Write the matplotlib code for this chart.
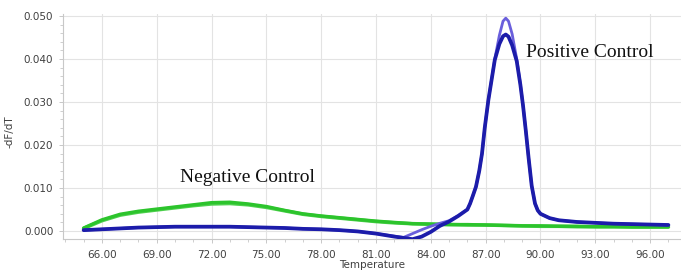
import matplotlib
matplotlib.use("Agg")
import matplotlib.pyplot as plt
from matplotlib.ticker import MultipleLocator, FormatStrFormatter

# ---- data ----
neg_temp = [65, 66, 67, 68, 69, 70, 71, 72, 73, 74, 75, 76, 77, 78, 79, 80,
            81, 82, 83, 84, 85, 86, 87, 88, 89, 90, 91, 92, 93, 94, 95, 96, 97]
neg_a = [0.0007, 0.0026, 0.0039, 0.0046, 0.0051, 0.0056, 0.0061, 0.0066, 0.0067,
         0.0063, 0.0057, 0.0048, 0.0040, 0.0035, 0.0031, 0.0027, 0.0023, 0.0020,
         0.0017, 0.0016, 0.0015, 0.0015, 0.0014, 0.0013, 0.0012, 0.0012, 0.0011,
         0.0011, 0.0010, 0.0010, 0.0010, 0.0010, 0.0010]
neg_b = [0.0006, 0.0024, 0.0037, 0.0044, 0.0049, 0.0054, 0.0059, 0.0063, 0.0064,
         0.0061, 0.0055, 0.0047, 0.0039, 0.0034, 0.0030, 0.0026, 0.0022, 0.0019,
         0.0017, 0.0016, 0.0015, 0.0014, 0.0014, 0.0013, 0.0012, 0.0011, 0.0011,
         0.0010, 0.0010, 0.0010, 0.0009, 0.0009, 0.0009]

pos_temp = [65, 66, 67, 68, 69, 70, 71, 72, 73, 74, 75, 76, 77, 78, 79, 80, 81, 82,
            82.5, 83, 83.5, 84, 84.5, 85, 85.5, 86, 86.15, 86.3, 86.47, 86.65, 86.8,
            86.95, 87.15, 87.5, 87.75, 87.95, 88.1, 88.25, 88.45, 88.7, 88.9, 89.05,
            89.2, 89.35, 89.52, 89.7, 89.85, 90.0, 90.5, 91, 92, 93, 94, 95, 96, 97]
pos_dark = [0.0002, 0.0004, 0.0006, 0.0008, 0.0009, 0.0010, 0.0010, 0.0010, 0.0010,
            0.0009, 0.0008, 0.0007, 0.0005, 0.0004, 0.0002, -0.0001, -0.0006, -0.0013,
            -0.0016, -0.0019, -0.0013, -0.0002, 0.0012, 0.0022, 0.0035, 0.0050, 0.0064,
            0.0082, 0.0103, 0.0140, 0.0180, 0.0240, 0.0305, 0.0398, 0.0435, 0.0453,
            0.0457, 0.0452, 0.0432, 0.0395, 0.0340, 0.0290, 0.0232, 0.0170, 0.0105,
            0.0064, 0.0048, 0.0040, 0.0030, 0.0025, 0.0021, 0.0019, 0.0017, 0.0016,
            0.0015, 0.0014]
pos_light = [0.0002, 0.0004, 0.0006, 0.0008, 0.0009, 0.0010, 0.0010, 0.0010, 0.0010,
             0.0009, 0.0008, 0.0007, 0.0005, 0.0004, 0.0002, -0.0001, -0.0006, -0.0012,
             -0.0015, -0.0006, 0.0003, 0.0011, 0.0018, 0.0024, 0.0036, 0.0050, 0.0064,
             0.0082, 0.0103, 0.0140, 0.0180, 0.0240, 0.0305, 0.0400, 0.0455, 0.0488,
             0.0495, 0.0488, 0.0458, 0.0400, 0.0342, 0.0290, 0.0232, 0.0170, 0.0105,
             0.0064, 0.0048, 0.0040, 0.0030, 0.0025, 0.0021, 0.0019, 0.0017, 0.0016,
             0.0015, 0.0014]

x_ticks = [66, 69, 72, 75, 78, 81, 84, 87, 90, 93, 96]
y_ticks = [0.000, 0.010, 0.020, 0.030, 0.040, 0.050]

# ---- figure ----
fig = plt.figure(figsize=(6.81, 2.71), dpi=100)
ax = fig.add_axes([63 / 681, 1 - 239 / 271, 1 - 63 / 681, 225 / 271])

ax.plot(neg_temp, neg_b, color="#4fd04f", lw=2.6, solid_capstyle="round",
        solid_joinstyle="round", zorder=3)
ax.plot(neg_temp, neg_a, color="#2cc42c", lw=2.4, solid_capstyle="round",
        solid_joinstyle="round", zorder=3)
ax.plot(pos_temp, pos_light, color="#6a5fdc", lw=2.0, solid_capstyle="round",
        solid_joinstyle="round", zorder=4)
ax.plot(pos_temp, pos_dark, color="#1c1caa", lw=2.7, solid_capstyle="round",
        solid_joinstyle="round", zorder=5)

ax.set_xlim(63.87, 97.69)
ax.set_ylim(-0.00186, 0.05047)
ax.set_xticks(x_ticks)
ax.set_yticks(y_ticks)
ax.xaxis.set_major_formatter(FormatStrFormatter("%.2f"))
ax.yaxis.set_major_formatter(FormatStrFormatter("%.3f"))
ax.xaxis.set_minor_locator(MultipleLocator(1))
ax.yaxis.set_minor_locator(MultipleLocator(0.002))

ax.grid(True, which="major", color="#e3e3e3", lw=0.8, zorder=0)
ax.set_axisbelow(True)
for s in ["top", "right"]:
    ax.spines[s].set_visible(False)
for s in ["left", "bottom"]:
    ax.spines[s].set_color("#c8c8c8")
    ax.spines[s].set_linewidth(0.8)

ax.tick_params(which="both", colors="#c8c8c8", labelcolor="#404040", labelsize=7.5)
ax.tick_params(which="major", length=3, width=0.7)
ax.tick_params(which="minor", length=2, width=0.6)
ax.tick_params(axis="x", pad=5)
ax.tick_params(axis="y", pad=4)

ax.set_xlabel("Temperature", fontsize=7.5, color="#404040")
ax.xaxis.set_label_coords(0.5, -0.095)
ax.set_ylabel("-dF/dT", fontsize=7.5, color="#404040")
ax.yaxis.set_label_coords(-0.078, 0.476)

fig.text(247.5 / 681, 1 - 178 / 271, "Negative Control", ha="center", va="center",
         fontsize=14, family="Liberation Serif", color="#111111")
fig.text(526 / 681, 1 - 52 / 271, "Positive Control", ha="left", va="center",
         fontsize=14, family="Liberation Serif", color="#111111")

fig.savefig("out.png", dpi=100)
